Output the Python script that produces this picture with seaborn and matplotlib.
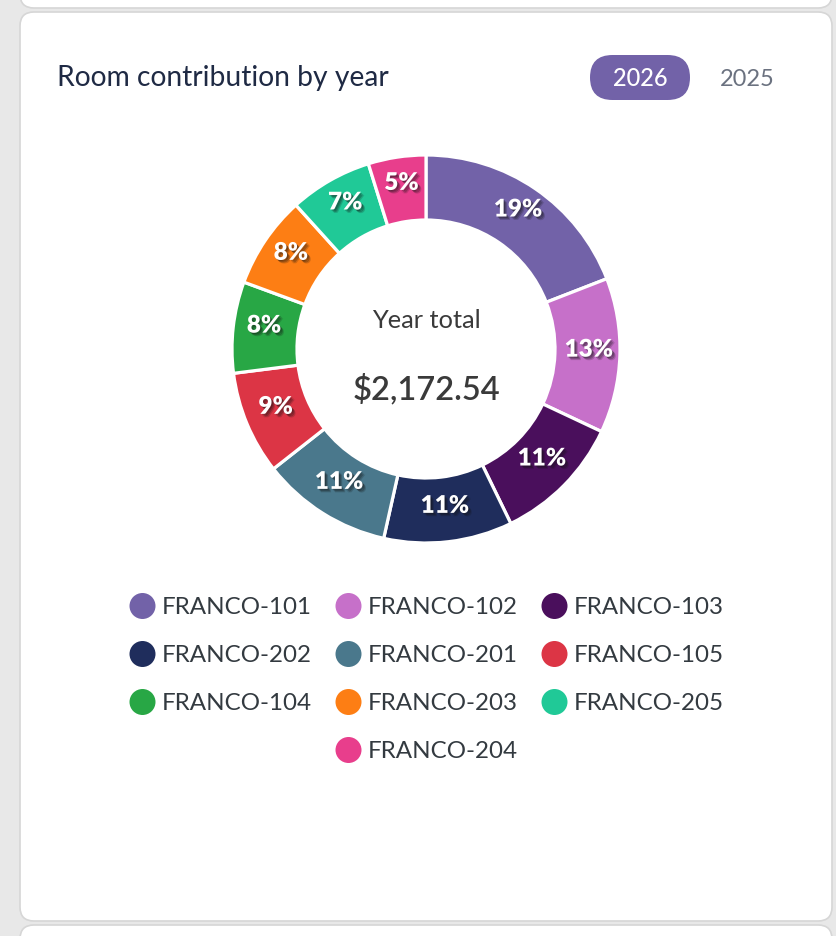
import matplotlib
matplotlib.use("Agg")
import matplotlib.pyplot as plt
import seaborn as sns
from matplotlib.patches import FancyBboxPatch
import matplotlib.patheffects as pe

# ---- data ----
rooms = ["FRANCO-101", "FRANCO-102", "FRANCO-103", "FRANCO-202", "FRANCO-201",
         "FRANCO-105", "FRANCO-104", "FRANCO-203", "FRANCO-205", "FRANCO-204"]
amounts = [414.95, 280.26, 234.63, 232.46, 236.81, 186.84, 165.11, 167.29, 149.91, 104.28]
room_colors = ["#7262a8", "#c670c9", "#4a0f5c", "#1f2d5c", "#4a788c",
               "#dc3545", "#28a745", "#fd7e14", "#20c997", "#e83e8c"]
title = "Room contribution by year"
years = ["2026", "2025"]
center_label = "Year total"

sns.set_theme(style="white")
plt.rcParams['font.family'] = ['Lato', 'DejaVu Sans']
palette = sns.color_palette(room_colors)

W, H = 836, 936
fig = plt.figure(figsize=(W / 100, H / 100), dpi=100)
fig.patch.set_facecolor('#e8e8e8')

bg = fig.add_axes([0, 0, 1, 1])
bg.set_xlim(0, W)
bg.set_ylim(H, 0)
bg.axis('off')

# cards
for (x0, y0, x1, y1) in [(20, -60, 832, 8), (20, 12, 832, 921), (20, 925, 832, 1000)]:
    bg.add_patch(FancyBboxPatch((x0, y0), x1 - x0, y1 - y0,
                                boxstyle="round,pad=0,rounding_size=14",
                                fc='white', ec='#d6d6d6', lw=1.2, zorder=1))

# header
bg.text(57, 86, title, fontsize=20.3, color='#1f2a44', va='baseline', ha='left', zorder=3)
bg.add_patch(FancyBboxPatch((590, 55), 100, 45, boxstyle="round,pad=0,rounding_size=22.5",
                            fc='#7262a8', ec='none', zorder=2))
bg.text(640, 85.5, years[0], fontsize=17, color='white', ha='center', va='baseline',
        fontweight='medium', zorder=3)
bg.text(747, 85.5, years[1], fontsize=17, color='#6b7280', ha='center', va='baseline', zorder=3)

# donut
cx, cy, R = 426, 349, 194
half = 210
ax = fig.add_axes([(cx - half) / W, 1 - (cy + half) / H, 2 * half / W, 2 * half / H])
shadow = [pe.SimplePatchShadow(offset=(2.5, -2.5), shadow_rgbFace='#111111', alpha=0.18),
          pe.SimplePatchShadow(offset=(1.8, -1.8), shadow_rgbFace='#111111', alpha=0.25),
          pe.SimplePatchShadow(offset=(1.0, -1.0), shadow_rgbFace='#111111', alpha=0.3),
          pe.Normal()]
wedges, texts, autotexts = ax.pie(
    amounts, colors=palette, startangle=90, counterclock=False, radius=1,
    wedgeprops=dict(width=65 / R, edgecolor='white', linewidth=2.3),
    autopct=lambda p: f"{round(p)}%", pctdistance=0.84,
    textprops=dict(color='white', fontsize=17.5, fontweight='heavy'))
for t in autotexts:
    x, y = t.get_position()
    t.set_position((x, y + 5 / R))
    t.set_path_effects(shadow)
ax.set_xlim(-half / R, half / R)
ax.set_ylim(-half / R, half / R)
ax.set_aspect('equal')
ax.axis('off')

total = sum(amounts)
ax.text(0, (cy - 321) / R, center_label, ha='center', va='center', fontsize=18.3, color='#3a3a3a')
ax.text(0, (cy - 390) / R, f"${total:,.2f}", ha='center', va='center', fontsize=23.5,
        color='#3a3a3a', fontweight='semibold')

# legend (centered, wrapped rows of 3)
item_w, gap, per_row = 181, 25, 3
row_y0, row_dy = 606, 48
for i, (name, col) in enumerate(zip(rooms, palette)):
    r, c = divmod(i, per_row)
    n = min(per_row, len(rooms) - r * per_row)
    start = cx - (n * item_w + (n - 1) * gap) / 2 + c * (item_w + gap)
    y = row_y0 + r * row_dy
    bg.scatter([start + 13], [y], s=(26 * 0.72) ** 2, color=col, edgecolors='none', zorder=3)
    bg.text(start + 32, y + 8.5, name, fontsize=17.4, color='#333a40', ha='left',
            va='baseline', zorder=3)

fig.savefig("out.png", dpi=100, facecolor=fig.get_facecolor())
